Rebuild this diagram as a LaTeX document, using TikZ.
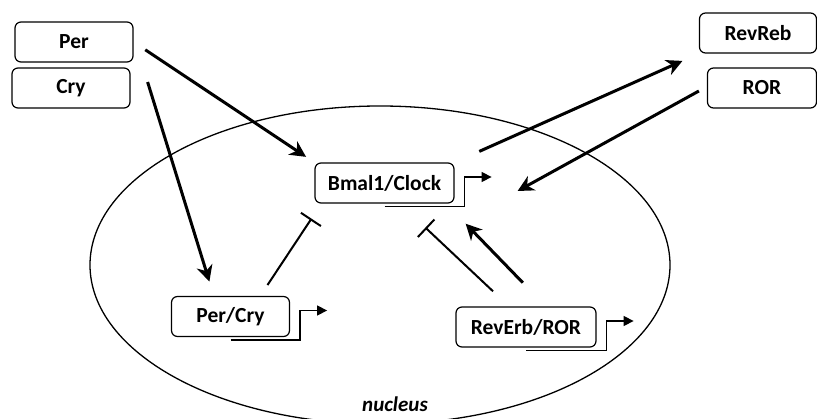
\documentclass[tikz,border=0pt]{standalone}
\usepackage{fontspec}
\setmainfont{Carlito}
\usetikzlibrary{calc,arrows.meta}

\tikzset{
  gene/.style={draw, line width=1.2pt, rounded corners=6pt, minimum height=40pt,
    minimum width=118pt, inner sep=0pt, font=\fontsize{21.5}{24}\selectfont\bfseries},
  act/.style={line width=3pt, -{Stealth[length=16pt,width=16pt,inset=5pt]}},
  inhib/.style={line width=2pt, -{Bar[width=24pt,line width=2pt]}},
  promoter/.style={line width=1.4pt, -{Triangle[length=10pt,width=10pt]}}
}

\begin{document}
\begin{tikzpicture}[x=1pt, y=-1pt]
\useasboundingbox (0,0) rectangle (817,419);

% nucleus
\draw[line width=1.3pt] (380,265) ellipse [x radius=290pt, y radius=159pt];
\node[font=\fontsize{21}{24}\selectfont\bfseries\itshape] (nucleus) at (395,404) {nucleus};

% cytoplasm
\node[gene] (per) at (74,42) {Per};
\node[gene] (cry) at (71,88) {Cry};
\node[gene, minimum width=117pt] (revreb) at (758,33) {RevReb};
\node[gene, minimum width=109pt] (ror) at (762,88) {ROR};

% genes in the nucleus
\node[gene, minimum width=139pt] (bmal) at (384.5,183) {Bmal1/Clock};
\node[gene] (percry) at (230.5,316.5) {Per/Cry};
\node[gene, minimum width=140pt] (reverb) at (526,327) {RevErb/ROR};

\foreach \g in {bmal, percry, reverb}
  {
  \draw[promoter] ($(\g.south)+(0,3)$) -| ($(\g.east)+(10,-6)$) -- ++(27,0);
  }

% activation
\draw[act, shorten <=14pt, shorten >=10pt] (per.east) -- (bmal.north west);
\draw[act, shorten >=15pt] ($(cry.east)+(17,-6)$) -- ($(percry.north west)!0.36!(percry.north east)$);
\draw[act, shorten <=27pt, shorten >=18pt] (bmal.north east) -- (revreb.south west);
\draw[act] ($(ror.west)+(-8,3)$) -- ($(bmal.east)+(63,8)$);
\draw[act, shorten <=33pt, shorten >=28pt] ($(reverb.north west)!0.64!(reverb.north east)$) -- ($(bmal.south west)!0.94!(bmal.south east)$);

% repression
\draw[inhib, shorten <=13pt, shorten >=18pt] ($(percry.north west)!0.75!(percry.north east)$) -- ($(bmal.south west)!0.05!(bmal.south east)$);
\draw[inhib, shorten <=22pt, shorten >=35pt] ($(reverb.north west)!0.38!(reverb.north east)$) -- ($(bmal.south west)!0.61!(bmal.south east)$);

\end{tikzpicture}
\end{document}
